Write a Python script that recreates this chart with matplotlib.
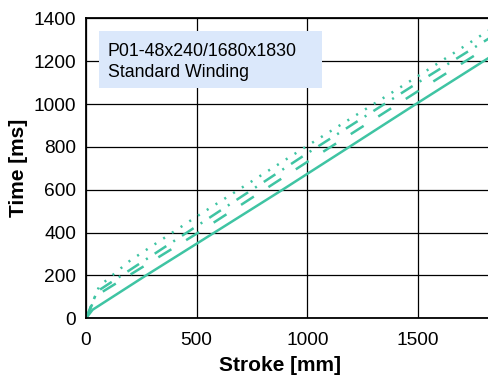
import matplotlib
matplotlib.use('Agg')
import matplotlib.pyplot as plt
from matplotlib.patches import Rectangle

# curve data (stroke in mm, time in ms)
stroke_solid = [0, 30, 271, 580, 888, 1190, 1491, 1830]
time_solid = [0, 40, 200, 400, 600, 800, 1000, 1222]

stroke_dashed = [0, 45, 500, 1000, 1500, 1830]
time_dashed = [0, 105, 395, 730, 1060, 1275]

stroke_dashdot = [0, 50, 500, 1000, 1500, 1830]
time_dashdot = [0, 125, 430, 770, 1100, 1312]

stroke_dotted = [0, 60, 200, 500, 1000, 1500, 1830]
time_dotted = [0, 150, 270, 475, 805, 1130, 1350]

xticks = [0, 500, 1000, 1500]
yticks = [0, 200, 400, 600, 800, 1000, 1200, 1400]

title_lines = ['P01-48x240/1680x1830', 'Standard Winding']

plt.rcParams['font.family'] = ['Liberation Sans', 'DejaVu Sans']
plt.rcParams['lines.scale_dashes'] = False

color = '#3fc4a3'

fig = plt.figure(figsize=(4.89, 3.76), dpi=100)
ax = fig.add_axes([86/489, (376-318.3)/376, 405/489, 300/376])

ax.plot(stroke_solid, time_solid, color=color, lw=1.8, ls='-')
ax.plot(stroke_dashed, time_dashed, color=color, lw=1.8, ls=(0, (11, 12.5)))
ax.plot(stroke_dashdot, time_dashdot, color=color, lw=1.8, ls=(0, (10, 6, 1.5, 6)))
ax.plot(stroke_dotted, time_dotted, color=color, lw=1.8, ls=(0, (1.5, 6)))

ax.set_xlim(0, 1830)
ax.set_ylim(0, 1400)
ax.set_xticks(xticks)
ax.set_yticks(yticks)
ax.grid(True, color='black', lw=0.9)
ax.set_axisbelow(True)
ax.tick_params(direction='in', length=0, labelsize=13.8)
ax.tick_params(axis='x', pad=10)
ax.tick_params(axis='y', pad=7)
for s in ax.spines.values():
    s.set_linewidth(1.3)

ax.set_xlabel('Stroke [mm]', fontsize=15, fontweight='bold')
ax.xaxis.set_label_coords((280-86)/405, -0.127)
ax.set_ylabel('Time [ms]', fontsize=15, fontweight='bold')
ax.yaxis.set_label_coords(-0.143, 0.5)

# info box
ax.add_patch(Rectangle((0.031, 0.768), 0.551, 0.189, transform=ax.transAxes,
                       facecolor='#dbe8fb', edgecolor='none', zorder=3))
ax.text(0.0536, 0.874, title_lines[0], transform=ax.transAxes, fontsize=12.8,
        va='baseline', ha='left', zorder=4)
ax.text(0.0536, 0.804, title_lines[1], transform=ax.transAxes, fontsize=12.8,
        va='baseline', ha='left', zorder=4)

fig.savefig('out.png', dpi=100)
